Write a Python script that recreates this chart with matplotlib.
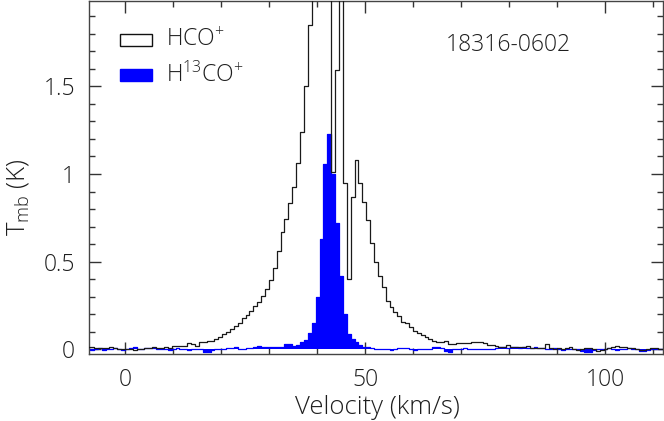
import numpy as np
import matplotlib
matplotlib.use("Agg")
import matplotlib.pyplot as plt
from matplotlib.patches import Rectangle
from matplotlib.ticker import MultipleLocator

# channel grid (km/s)
v_first = -7.705
dv = 0.81

hco = [0.015, 0.016, 0.008, 0.008, 0.01, 0.01, 0.012, 0.008, 0.005, 0.003, 0.0, 0.002, -0.002, 0.0, 0.004, 0.008,
       0.01, 0.012, 0.008, 0.01, 0.015, 0.01,
       0.02, 0.018, 0.022, 0.02,
       0.035, 0.03, 0.022, 0.04, 0.042, 0.05, 0.05, 0.06, 0.07, 0.088, 0.10, 0.117, 0.133, 0.152, 0.177, 0.196,
       0.22, 0.247, 0.272, 0.304, 0.342, 0.395, 0.467, 0.561, 0.669, 0.745, 0.834, 0.925, 1.06, 1.24, 1.50, 1.85,
       2.3, 2.7, 2.9, 2.6, 2.2,
       1.01, 1.59, 2.1, 0.95, 0.40, 0.87, 1.08, 0.95, 0.84, 0.735, 0.605, 0.50, 0.42, 0.355, 0.278, 0.24, 0.213,
       0.19, 0.158, 0.148, 0.128, 0.105, 0.095, 0.085, 0.073, 0.06, 0.05, 0.045, 0.044, 0.05, 0.03, 0.03, 0.035,
       0.035, 0.038, 0.035, 0.04, 0.042, 0.04, 0.038, 0.025, 0.025, 0.02, 0.016, 0.016, 0.025, 0.012, 0.013, 0.012,
       0.013, 0.02, 0.01, 0.01, 0.008, 0.01, 0.03, 0.01,
       0.005, 0.01, 0.0, 0.008, 0.012, 0.004, -0.005, 0.0, 0.006, 0.01, 0.003, -0.008, -0.004, 0.005, 0.01, 0.012,
       0.02, 0.015, 0.012, 0.006, 0.008, 0.003, -0.006, -0.004, 0.003, 0.01, 0.008, 0.005, 0.0]

h13co = [0.005, -0.005, 0.0, 0.008, -0.003, 0.0, 0.005, 0.008, 0.002, -0.004, 0.0, 0.006, 0.012, 0.0, 0.004, 0.01,
         0.01, 0.008, 0.005, 0.0, 0.003, -0.003, 0.0, 0.006, 0.002, 0.0, -0.004, 0.004, 0.0, 0.002,
         -0.012, -0.014, -0.006,
         0.0, 0.004, 0.002, 0.006,
         0.01, 0.012,
         0.005, 0.004, 0.006, 0.008,
         0.015, 0.018, 0.012,
         0.012, 0.015, 0.015, 0.014, 0.016, 0.03,
         0.03, 0.02, 0.025, 0.04, 0.054, 0.093, 0.15, 0.30, 0.63, 1.058, 1.228, 1.0, 0.72, 0.42, 0.20, 0.088,
         0.06, 0.04, 0.025, 0.015, 0.012, 0.008, 0.005, 0.0,
         0.0, 0.003, -0.002, 0.002,
         0.008, 0.01, 0.006,
         0.0, -0.003, 0.002, 0.0, 0.004, 0.0,
         0.012, 0.014, 0.01,
         -0.008, -0.012,
         0.0, 0.004, 0.002, 0.006, 0.004, 0.0, 0.003, 0.005, 0.002, 0.0, 0.004, 0.006,
         0.012, 0.014, 0.01, 0.012, 0.015, 0.01, 0.012, 0.008, 0.01, 0.012, 0.009, 0.006,
         0.004, 0.0, 0.006, 0.002, -0.003, 0.004, 0.0, 0.002, 0.004,
         -0.01, -0.012, -0.014, -0.006,
         0.003, 0.0, 0.002, 0.006, 0.004, -0.002, 0.0, 0.003, 0.006, 0.002, 0.0,
         -0.008, -0.01, -0.006,
         0.002, 0.004, 0.0, 0.003]

x_major = [0, 50, 100]
y_major = [0, 0.5, 1, 1.5]
y_ticklabels = ["0", "0.5", "1", "1.5"]
source_name = "18316-0602"
series_labels = [r"HCO$^{+}$", r"H$^{13}$CO$^{+}$"]

hco = np.array(hco)
h13co = np.array(h13co)
vel = v_first + dv * np.arange(len(hco))

plt.rcParams['font.family'] = ['Open Sans', 'DejaVu Sans']
plt.rcParams['font.weight'] = 'light'
plt.rcParams['mathtext.fontset'] = 'custom'
plt.rcParams['mathtext.rm'] = 'Open Sans:light'
plt.rcParams['mathtext.it'] = 'Open Sans:light'
plt.rcParams['mathtext.default'] = 'rm'
FS = 16.5
FS_LAB = 18.5
TC = '#1e1e1e'

W, H = 664, 421
fig = plt.figure(figsize=(W / 100, H / 100), dpi=100)
ax = fig.add_axes([89 / W, (H - 354) / H, 574 / W, 353 / H])

ax.fill_between(vel, h13co, 0, step='mid', color='#0000ff', lw=0, zorder=2)
ax.step(vel, h13co, where='mid', color='#0000ff', lw=0.9, zorder=2)
ax.step(vel, hco, where='mid', color='#1a1a1a', lw=0.9, zorder=3)

ax.set_xlim(-7.5, 112)
ax.set_ylim(-0.026, 1.986)

ax.set_xticks(x_major)
ax.set_xticklabels([str(t) for t in x_major])
ax.set_yticks(y_major)
ax.set_yticklabels(y_ticklabels)
ax.xaxis.set_minor_locator(MultipleLocator(10))
ax.yaxis.set_minor_locator(MultipleLocator(0.1))
ax.tick_params(which='both', direction='in', top=True, right=True, width=1.0, color='#333333')
ax.tick_params(which='major', length=8.5, labelsize=FS, pad=10, labelcolor=TC)
ax.tick_params(which='minor', length=4.5)
for s in ax.spines.values():
    s.set_linewidth(1.0)
    s.set_color('#444444')

fig.text(377 / W, 1 - 407 / H, "Velocity (km/s)", ha='center', va='center', fontsize=FS_LAB, color=TC)
fig.text(18 / W, 1 - 197 / H, r"T$_{\rm mb}$ (K)", ha='center', va='center', rotation=90, fontsize=FS_LAB, color=TC)

ax.text(0.73, 0.875, source_name, transform=ax.transAxes, ha='center', va='center', fontsize=FS, color=TC)

# legend
def px2ax(x, y):
    return ((x - 89) / 574, (354 - y) / 353)

x0, y0 = px2ax(120, 45.5)
x1, y1 = px2ax(152, 33.5)
ax.add_patch(Rectangle((x0, y0), x1 - x0, y1 - y0, transform=ax.transAxes, facecolor='white',
                       edgecolor='#111111', lw=1.0, zorder=5))
x0, y0 = px2ax(120, 81)
x1, y1 = px2ax(152, 69)
ax.add_patch(Rectangle((x0, y0), x1 - x0, y1 - y0, transform=ax.transAxes, facecolor='#0000ff',
                       edgecolor='#0000ff', lw=1.0, zorder=5))
tx, ty = px2ax(166, 40)
ax.text(tx, ty, series_labels[0], transform=ax.transAxes, ha='left', va='center', fontsize=FS, color=TC)
tx, ty = px2ax(166, 75)
ax.text(tx, ty, series_labels[1], transform=ax.transAxes, ha='left', va='center', fontsize=FS, color=TC)

fig.savefig("out.png", dpi=100)
